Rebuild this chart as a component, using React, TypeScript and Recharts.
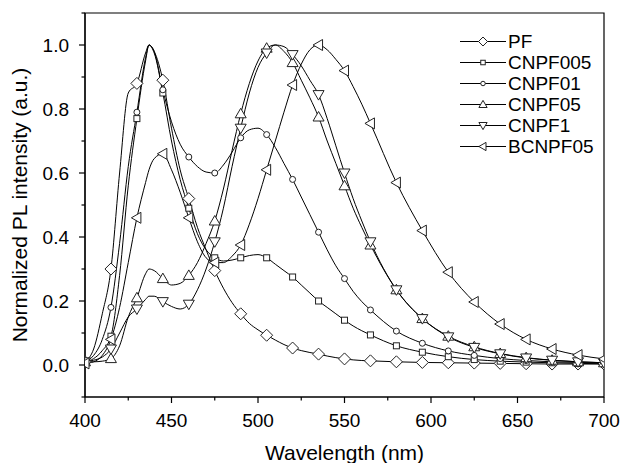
import React from "react";
import { LineChart, Line, XAxis, YAxis, ReferenceArea } from "recharts";

document.body.style.margin = "0";

const FONT = '"Liberation Sans", Arial, sans-serif';

// shared wavelength grid (nm); markers sit on every 15 nm
const wavelengths = [
  400, 405, 410, 415, 420, 425, 430, 435, 437, 440, 445, 450, 455, 460, 465,
  470, 475, 480, 485, 490, 495, 500, 505, 510, 515, 520, 525, 530, 535, 540,
  545, 550, 555, 560, 565, 580, 595, 610, 625, 640, 655, 670, 685, 700,
];

const pf = [
  0.01, 0.05, 0.16, 0.3, 0.6, 0.85, 0.88, 0.975, 1.0, 0.98, 0.89, 0.74, 0.61,
  0.52, 0.43, 0.36, 0.295, 0.24, 0.195, 0.16, 0.13, 0.11, 0.093, 0.078, 0.064,
  0.053, 0.045, 0.039, 0.034, 0.028, 0.023, 0.019, 0.016, 0.014, 0.013, 0.01,
  0.008, 0.007, 0.006, 0.005, 0.004, 0.003, 0.003, 0.003,
];
const cnpf005 = [
  0.01, 0.02, 0.045, 0.09, 0.28, 0.56, 0.77, 0.95, 1.0, 0.975, 0.85, 0.7, 0.58,
  0.49, 0.41, 0.36, 0.335, 0.325, 0.328, 0.335, 0.342, 0.345, 0.335, 0.315,
  0.295, 0.275, 0.25, 0.225, 0.2, 0.18, 0.16, 0.14, 0.122, 0.107, 0.094, 0.06,
  0.04, 0.026, 0.017, 0.012, 0.009, 0.007, 0.005, 0.004,
];
const cnpf01 = [
  0.01, 0.03, 0.08, 0.18, 0.38, 0.62, 0.79, 0.96, 1.0, 0.98, 0.86, 0.76, 0.69,
  0.65, 0.62, 0.603, 0.6, 0.625, 0.665, 0.71, 0.735, 0.74, 0.72, 0.68, 0.63,
  0.58, 0.525, 0.47, 0.415, 0.36, 0.31, 0.27, 0.23, 0.198, 0.172, 0.106, 0.068,
  0.044, 0.03, 0.02, 0.014, 0.01, 0.008, 0.006,
];
const cnpf05 = [
  0.01, 0.01, 0.012, 0.02, 0.06, 0.15, 0.21, 0.285, 0.3, 0.295, 0.27, 0.25,
  0.255, 0.28, 0.32, 0.38, 0.45, 0.55, 0.67, 0.785, 0.88, 0.95, 0.99, 1.0,
  0.98, 0.945, 0.89, 0.835, 0.775, 0.7, 0.63, 0.56, 0.49, 0.43, 0.375, 0.235,
  0.145, 0.09, 0.057, 0.036, 0.023, 0.015, 0.01, 0.007,
];
const cnpf1 = [
  0.01, 0.015, 0.025, 0.05, 0.1, 0.15, 0.175, 0.205, 0.215, 0.215, 0.198,
  0.183, 0.175, 0.19, 0.235, 0.3, 0.385, 0.49, 0.62, 0.74, 0.85, 0.93, 0.975,
  1.0, 0.995, 0.97, 0.935, 0.89, 0.845, 0.77, 0.685, 0.6, 0.52, 0.45, 0.385,
  0.235, 0.145, 0.088, 0.055, 0.035, 0.022, 0.015, 0.01, 0.007,
];
const bcnpf05 = [
  0.005, 0.01, 0.03, 0.08, 0.18, 0.32, 0.46, 0.57, 0.61, 0.645, 0.66, 0.61,
  0.54, 0.46, 0.385, 0.335, 0.32, 0.32, 0.34, 0.375, 0.44, 0.52, 0.61, 0.7,
  0.79, 0.875, 0.94, 0.985, 1.0, 0.985, 0.955, 0.92, 0.87, 0.815, 0.755, 0.57,
  0.42, 0.29, 0.197, 0.128, 0.08, 0.05, 0.031, 0.019,
];

const xTicks = [400, 425, 450, 475, 500, 525, 550, 575, 600, 625, 650, 675, 700];
const yTicks = [-0.1, 0, 0.1, 0.2, 0.3, 0.4, 0.5, 0.6, 0.7, 0.8, 0.9, 1.0, 1.1];

const series = [
  { key: "PF", values: pf, shape: "diamond" },
  { key: "CNPF005", values: cnpf005, shape: "square" },
  { key: "CNPF01", values: cnpf01, shape: "circle" },
  { key: "CNPF05", values: cnpf05, shape: "up" },
  { key: "CNPF1", values: cnpf1, shape: "down" },
  { key: "BCNPF05", values: bcnpf05, shape: "left" },
];

const data = wavelengths.map((wl, i) => {
  const row: Record<string, number> = { wl };
  series.forEach((s) => (row[s.key] = s.values[i]));
  return row;
});

const marker = (shape: string, cx: number, cy: number, s: number, key?: string) => {
  const st = { fill: "#fff", stroke: "#222", strokeWidth: 1 };
  const pts = (p: number[][]) => p.map(([a, b]) => `${cx + a * s},${cy + b * s}`).join(" ");
  switch (shape) {
    case "diamond":
      return <polygon key={key} points={pts([[0, -6], [6, 0], [0, 6], [-6, 0]])} {...st} />;
    case "square":
      return <rect key={key} x={cx - 3 * s} y={cy - 3 * s} width={6 * s} height={6 * s} {...st} />;
    case "circle":
      return <circle key={key} cx={cx} cy={cy} r={3 * s} {...st} />;
    case "up":
      return <polygon key={key} points={pts([[0, -5.5], [5.5, 4], [-5.5, 4]])} {...st} />;
    case "down":
      return <polygon key={key} points={pts([[0, 5.5], [5.5, -4], [-5.5, -4]])} {...st} />;
    default:
      return <polygon key={key} points={pts([[-5.5, 0], [4, -5.5], [4, 5.5]])} {...st} />;
  }
};

const XTick = (props: any) => {
  const { x, y, payload } = props;
  const v = payload.value;
  const major = v % 50 === 0;
  return (
    <g>
      <line x1={x} x2={x} y1={y} y2={y + (major ? 6 : 3.5)} stroke="#000" strokeWidth={1.2} />
      {major && (
        <text x={x} y={y + 30} textAnchor="middle" fontSize={19} fontFamily={FONT} fill="#000">
          {v}
        </text>
      )}
    </g>
  );
};

const YTick = (props: any) => {
  const { x, y, payload } = props;
  const v = payload.value;
  const n = Math.round(v * 10);
  const major = n >= 0 && n <= 10 && n % 2 === 0;
  return (
    <g>
      <line x1={x - (major ? 6 : 3.5)} x2={x} y1={y} y2={y} stroke="#000" strokeWidth={1.2} />
      {major && (
        <text x={x - 16} y={y + 7} textAnchor="end" fontSize={19} fontFamily={FONT} fill="#000">
          {v.toFixed(1)}
        </text>
      )}
    </g>
  );
};

const LegendBox = () => (
  <div style={{ position: "absolute", left: 460, top: 31, fontFamily: FONT, fontSize: 19 }}>
    {series.map((s) => (
      <div key={s.key} style={{ display: "flex", alignItems: "center", height: 21 }}>
        <svg width={46} height={21}>
          <line x1={0} x2={46} y1={10.5} y2={10.5} stroke="#000" strokeWidth={1} />
          {marker(s.shape, 23, 10.5, 0.75)}
        </svg>
        <span style={{ marginLeft: 2, lineHeight: "21px" }}>{s.key}</span>
      </div>
    ))}
  </div>
);

const App = () => {
  return (
    <div style={{ position: "relative", width: 623, height: 463, background: "#fff" }}>
      <LineChart
        width={623}
        height={463}
        data={data}
        margin={{ top: 13, right: 19, left: 0, bottom: 0 }}
      >
        <XAxis
          dataKey="wl"
          type="number"
          domain={[400, 700]}
          ticks={xTicks}
          interval={0}
          tick={<XTick />}
          tickLine={false}
          tickSize={0}
          tickMargin={0}
          height={66}
          axisLine={{ stroke: "#000", strokeWidth: 1.2 }}
          allowDataOverflow
          label={{
            value: "Wavelength (nm)",
            position: "insideBottom",
            offset: 3,
            style: { fontSize: 21, fontFamily: FONT, fill: "#000" },
          }}
        />
        <YAxis
          type="number"
          domain={[-0.1, 1.1]}
          ticks={yTicks}
          interval={0}
          tick={<YTick />}
          tickLine={false}
          tickSize={0}
          tickMargin={0}
          width={85}
          axisLine={{ stroke: "#000", strokeWidth: 1.2 }}
          allowDataOverflow
          label={{
            value: "Normalized PL intensity (a.u.)",
            angle: -90,
            position: "insideLeft",
            offset: 20,
            style: { textAnchor: "middle", fontSize: 21, fontFamily: FONT, fill: "#000" },
          }}
        />
        <ReferenceArea
          x1={400}
          x2={700}
          y1={-0.1}
          y2={1.1}
          fill="none"
          fillOpacity={0}
          stroke="#000"
          strokeWidth={1.2}
          ifOverflow="visible"
        />
        {series.map((s) => (
          <Line
            key={s.key}
            dataKey={s.key}
            type="monotone"
            stroke="#000"
            strokeWidth={1}
            isAnimationActive={false}
            activeDot={false}
            dot={(p: any) => {
              const k = `${s.key}-${p.index}`;
              if (p.cx == null || (p.payload.wl - 400) % 15 !== 0) return <g key={k} />;
              return marker(s.shape, p.cx, p.cy, 1, k);
            }}
          />
        ))}
      </LineChart>
      <LegendBox />
    </div>
  );
};

export default App;
